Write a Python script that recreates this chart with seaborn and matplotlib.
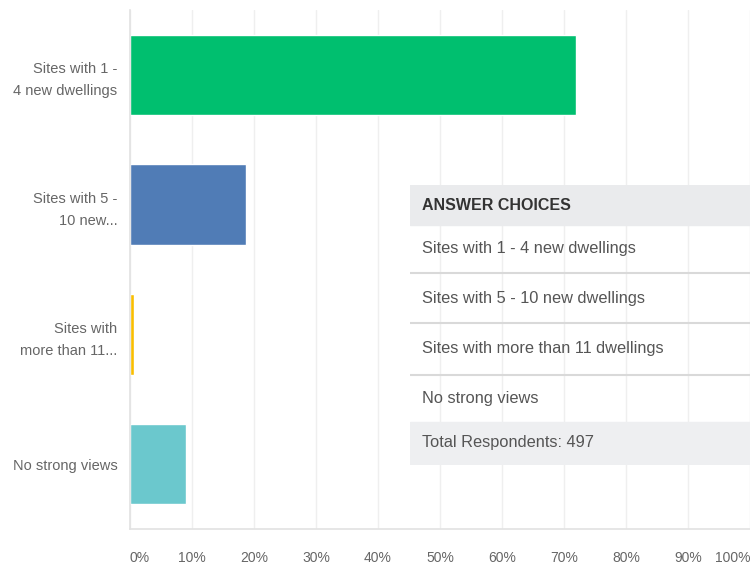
import numpy as np
import pandas as pd
import matplotlib
matplotlib.use("Agg")
import matplotlib.pyplot as plt
import seaborn as sns
from matplotlib.patches import Rectangle

# chart data
categories = ["Sites with 1 -\n4 new dwellings", "Sites with 5 -\n10 new...",
              "Sites with\nmore than 11...", "No strong views"]
percentages = [71.9, 18.7, 0.6, 9.0]
bar_colors = ["#00bf6f", "#507cb6", "#f9be00", "#6bc8cd"]
tick_values = list(range(0, 101, 10))
tick_labels = [f"{v}%" for v in tick_values]

# answer-choices table next to the bars
table_header = "ANSWER CHOICES"
table_rows = ["Sites with 1 - 4 new dwellings", "Sites with 5 - 10 new dwellings",
              "Sites with more than 11 dwellings", "No strong views"]
table_total = "Total Respondents: 497"

sns.set_style("white")
plt.rcParams["font.family"] = ["Liberation Sans", "DejaVu Sans"]

df = pd.DataFrame({"Answer": categories, "Percent": percentages})

fig = plt.figure(figsize=(7.5, 5.7), dpi=100)
ax = fig.add_axes([130 / 750, 1 - 529 / 570, 620 / 750, 519 / 570])

sns.barplot(data=df, x="Percent", y="Answer", hue="Answer", palette=bar_colors,
            legend=False, width=0.62, orient="h", saturation=1, ax=ax)

ax.set_xlim(0, 100)
ax.set_ylim(3.5, -0.5)
ax.set_xticks(tick_values)
ax.set_xticklabels(tick_labels)
ax.set_xlabel("")
ax.set_ylabel("")
ax.grid(axis="x", color="#efefef", linewidth=1)
ax.set_axisbelow(True)
for side in ["top", "right"]:
    ax.spines[side].set_visible(False)
for side in ["left", "bottom"]:
    ax.spines[side].set_color("#e2e2e2")
    ax.spines[side].set_linewidth(1.2)
ax.tick_params(axis="x", length=0, pad=16, labelsize=10, labelcolor="#666666")
ax.tick_params(axis="y", length=0, pad=9, labelsize=10.5, labelcolor="#666666")
for lab in ax.get_yticklabels():
    lab.set_linespacing(1.7)
xl = ax.get_xticklabels()
xl[0].set_horizontalalignment("left")
xl[-1].set_horizontalalignment("right")

# table overlay, in pixel units of its own box
tx = fig.add_axes([410 / 750, 1 - 465 / 570, 340 / 750, 280 / 570])
tx.set_xlim(0, 340)
tx.set_ylim(280, 0)
tx.axis("off")
tx.add_patch(Rectangle((0, 0), 340, 40, color="#eaebed", zorder=0))
tx.add_patch(Rectangle((0, 237), 340, 43, color="#eeeff1", zorder=0))
tx.text(12, 20, table_header, fontsize=11.5, fontweight="bold", color="#333333", va="center")
row_tops = [40, 88, 138, 190, 237]
for i, label in enumerate(table_rows):
    mid = (row_tops[i] + row_tops[i + 1]) / 2
    tx.text(12, mid, label, fontsize=11.8, color="#555555", va="center")
for y in row_tops[1:4]:
    tx.plot([0, 340], [y, y], color="#d9d9d9", linewidth=1.5)
tx.text(12, 258, table_total, fontsize=11.8, color="#555555", va="center")

fig.savefig("out.png", dpi=100)
